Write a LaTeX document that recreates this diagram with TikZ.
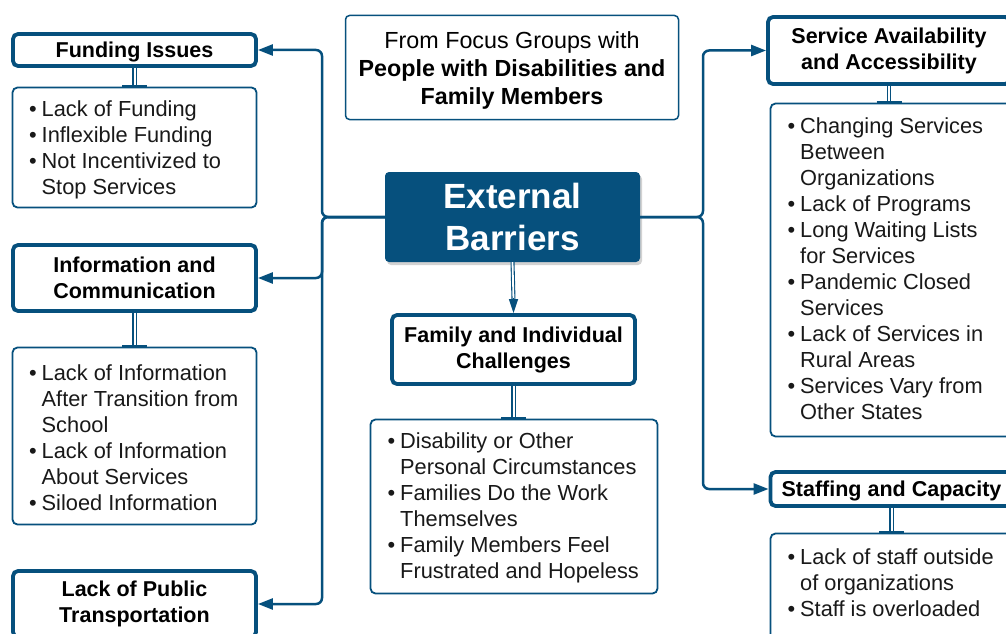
\documentclass[tikz,border=0pt]{standalone}
\usepackage{fontspec}
\setmainfont{Liberation Sans}
\usetikzlibrary{arrows.meta,shadows}
\definecolor{navy}{RGB}{6,80,125}
\newcommand\li[1]{\hbox{\makebox[12.5pt][l]{•}#1}}
\newcommand\lc[1]{\hbox{\hspace*{12.5pt}#1}}
\newcommand\blist[1]{\vtop{\baselineskip=26pt #1}}
\begin{document}
\begin{tikzpicture}[x=1pt,y=-1pt,
  head/.style={draw=navy, line width=3.8pt, rounded corners=5pt, fill=white,
    font=\bfseries\fontsize{21.5pt}{26pt}\selectfont, align=center, inner sep=0pt},
  listbox/.style={draw=navy, line width=1.8pt, rounded corners=5pt, fill=white, inner sep=0pt},
  listtext/.style={anchor=base west, inner sep=0pt, font=\fontsize{21.8pt}{26pt}\selectfont, text=black!90},
  conn/.style={draw=navy, line width=2.5pt, rounded corners=6pt, -{Triangle[length=15pt,width=11pt]}},
  dbl/.style={draw=navy, double=white, double distance=2pt, line width=1.4pt},
  tbar/.style={draw=navy, line width=2.6pt},
]
\fill[white] (0,0) rectangle (1006,634);
\clip (0,0) rectangle (1006,634);
\useasboundingbox (0,0) rectangle (1006,634);

% centre
\node[fill=navy, rounded corners=4pt, minimum width=255pt, minimum height=90pt, inner sep=0pt,
  align=center, text=white, font=\bfseries\fontsize{35pt}{42pt}\selectfont,
  drop shadow={opacity=0.35, shadow xshift=2pt, shadow yshift=-3pt}] (c) at (512.5,217) {External\\Barriers};

% top box
\node[draw=navy, line width=1.5pt, rounded corners=4pt, minimum width=333pt, minimum height=104pt,
  inner sep=0pt] (t) at (512,67.5) {};
\node[inner sep=0pt, align=center, font=\fontsize{23.3pt}{28pt}\selectfont] (tt) at (512,70.5)
  {From Focus Groups with\\\textbf{People with Disabilities and}\\\textbf{Family Members}};

% headings
\node[head, text depth=0pt, minimum width=243pt, minimum height=32pt] (fund) at (134.5,50) {Funding Issues};
\node[head, minimum width=243pt, minimum height=66pt] (info) at (134.5,278) {Information and\\Communication};
\node[head, minimum width=243pt, minimum height=66pt] (lack) at (134.5,604) {Lack of Public\\Transportation};
\node[head, minimum width=243pt, minimum height=69pt] (fam) at (513.5,349.5) {Family and Individual\\Challenges};
\node[head, minimum width=242pt, minimum height=67pt] (serv) at (889,50.5) {Service Availability\\and Accessibility};
\node[head, text depth=0pt, minimum width=242pt, minimum height=34pt] (staff) at (891.5,489) {Staffing and Capacity};

% list boxes
\node[listbox, minimum width=244pt, minimum height=120pt] (fundl) at (134.5,147.5) {};
\node[listbox, minimum width=244pt, minimum height=177pt] (infol) at (134.5,436) {};
\node[listbox, minimum width=287pt, minimum height=174pt] (faml) at (514,506.5) {};
\node[listbox, minimum width=241pt, minimum height=333pt] (servl) at (891,270) {};
\node[listbox, minimum width=241pt, minimum height=136pt] (staffl) at (891,601.5) {};

% list texts
\node[listtext] (fundt) at (29,116.7) {\blist{\li{Lack of Funding}\li{Inflexible Funding}\li{Not Incentivized to}\lc{Stop Services}}};
\node[listtext] (infot) at (29,380.5) {\blist{\li{Lack of Information}\lc{After Transition from}\lc{School}\li{Lack of Information}\lc{About Services}\li{Siloed Information}}};
\node[listtext] (famt) at (387.5,448.5) {\blist{\li{Disability or Other}\lc{Personal Circumstances}\li{Families Do the Work}\lc{Themselves}\li{Family Members Feel}\lc{Frustrated and Hopeless}}};
\node[listtext] (servt) at (787.5,133.5) {\blist{\li{Changing Services}\lc{Between}\lc{Organizations}\li{Lack of Programs}\li{Long Waiting Lists}\lc{for Services}\li{Pandemic Closed}\lc{Services}\li{Lack of Services in}\lc{Rural Areas}\li{Services Vary from}\lc{Other States}}};
\node[listtext] (stafft) at (787.5,564.5) {\blist{\li{Lack of staff outside}\lc{of organizations}\li{Staff is overloaded}}};

% heading-to-list links
\foreach \h/\l in {fund/fundl, info/infol, fam/faml, serv/servl, staff/staffl}{
  \draw[dbl] (\h.south) -- (\h.south |- \l.north);
  \draw[tbar] ([xshift=-12.5pt]\h.south |- \l.north) -- ([xshift=12.5pt]\h.south |- \l.north);
}

% trunks
\coordinate (lj) at (322,217);
\coordinate (rj) at (703,217);
\draw[conn] (c.west) -- (lj) |- (fund.east);
\draw[conn] (c.west) -- (lj) |- (info.east);
\draw[conn] (c.west) -- (lj) |- (lack.east);
\draw[conn] (c.east) -- (rj) |- (serv.west);
\draw[conn] (c.east) -- (rj) |- (staff.west);

% centre down arrow
\draw[dbl, line width=1.1pt, double distance=1.8pt] (c.south) -- ([yshift=13pt]fam.north);
\draw[draw=navy, line width=1.5pt, -{Triangle[length=14pt,width=9pt]}] ([yshift=15pt]fam.north) -- (fam.north);
\end{tikzpicture}
\end{document}
